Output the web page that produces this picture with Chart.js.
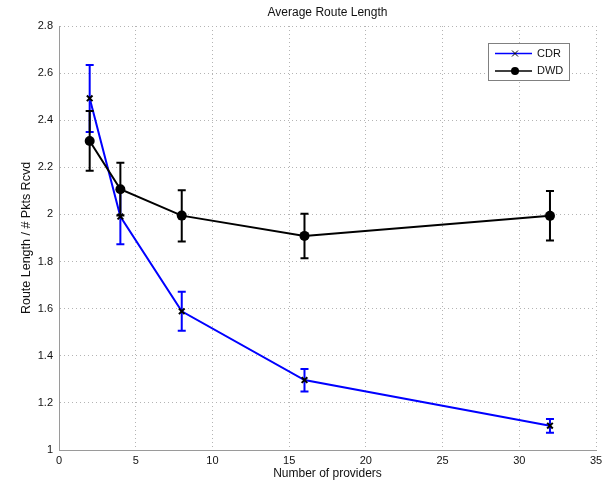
<!DOCTYPE html>
<html lang="en">
<head>
<meta charset="UTF-8">
<title>Average Route Length</title>
<script src="https://cdn.jsdelivr.net/npm/chart.js"></script>
<style>
  html, body { margin: 0; padding: 0; background: #fff; }
  #wrap { width: 611px; height: 484px; }
</style>
</head>
<body>
<div id="wrap"><canvas id="routeChart" width="611" height="484"></canvas></div>
<script>
// number of providers on the x axis
const providers = [2, 4, 8, 16, 32];

// CDR: mean route length and error bar ends
const cdrMean = [2.493, 1.991, 1.589, 1.297, 1.103];
const cdrLow  = [2.350, 1.873, 1.506, 1.248, 1.073];
const cdrHigh = [2.634, 2.107, 1.672, 1.344, 1.132];

// DWD: mean route length and error bar ends
const dwdMean = [2.312, 2.107, 1.995, 1.909, 1.994];
const dwdLow  = [2.186, 1.995, 1.885, 1.814, 1.889];
const dwdHigh = [2.439, 2.219, 2.103, 2.003, 2.100];

// axis ranges
const xRange = [0, 35, 5];
const yRange = [1, 2.8, 0.2];

const FONT = "'Liberation Sans', Arial, sans-serif";

const toPoints = (xs, ys) => xs.map((x, i) => ({ x: x, y: ys[i] }));

// vertical error bars with caps, drawn under each line
const errorBars = {
  id: 'errorBars',
  beforeDatasetDraw(chart, args) {
    const ds = chart.data.datasets[args.index];
    if (!ds.errLow) return;
    const xs = chart.scales.x, ys = chart.scales.y, ctx = chart.ctx;
    ctx.save();
    ctx.strokeStyle = ds.borderColor;
    ctx.lineWidth = 2;
    ds.data.forEach((p, i) => {
      const px = xs.getPixelForValue(p.x);
      const lo = ys.getPixelForValue(ds.errLow[i]);
      const hi = ys.getPixelForValue(ds.errHigh[i]);
      ctx.beginPath();
      ctx.moveTo(px, lo); ctx.lineTo(px, hi);
      ctx.moveTo(px - 4, lo); ctx.lineTo(px + 4, lo);
      ctx.moveTo(px - 4, hi); ctx.lineTo(px + 4, hi);
      ctx.stroke();
    });
    ctx.restore();
  }
};

// title centred over the plot area
const plotTitle = {
  id: 'plotTitle',
  afterDraw(chart) {
    const { ctx, chartArea } = chart;
    ctx.save();
    ctx.fillStyle = '#111';
    ctx.font = '12px ' + FONT;
    ctx.textAlign = 'center';
    ctx.textBaseline = 'middle';
    ctx.fillText('Average Route Length', (chartArea.left + chartArea.right) / 2, 13);
    ctx.restore();
  }
};

// boxed legend in the upper right of the plot
const boxLegend = {
  id: 'boxLegend',
  afterDraw(chart) {
    const { ctx, chartArea } = chart;
    const w = 81, h = 37;
    const left = chartArea.right - 27 - w, top = chartArea.top + 17;
    ctx.save();
    ctx.fillStyle = '#fff';
    ctx.fillRect(left, top, w, h);
    ctx.strokeStyle = '#808080';
    ctx.lineWidth = 1;
    ctx.strokeRect(left + 0.5, top + 0.5, w, h);
    ctx.font = '11px ' + FONT;
    ctx.textBaseline = 'middle';
    chart.data.datasets.forEach((ds, i) => {
      const y = top + 10.5 + i * 17.5;
      ctx.strokeStyle = ds.borderColor;
      ctx.lineWidth = 1.5;
      ctx.beginPath();
      ctx.moveTo(left + 7, y); ctx.lineTo(left + 44, y);
      ctx.stroke();
      const mx = left + 27;
      if (ds.pointStyle === 'crossRot') {
        ctx.strokeStyle = '#000';
        ctx.lineWidth = 1;
        ctx.beginPath();
        ctx.moveTo(mx - 3, y - 3); ctx.lineTo(mx + 3, y + 3);
        ctx.moveTo(mx - 3, y + 3); ctx.lineTo(mx + 3, y - 3);
        ctx.stroke();
      } else {
        ctx.fillStyle = '#000';
        ctx.beginPath();
        ctx.arc(mx, y, 4, 0, Math.PI * 2);
        ctx.fill();
      }
      ctx.fillStyle = '#111';
      ctx.fillText(ds.label, left + 49, y);
    });
    ctx.restore();
  }
};

const gridStyle = { color: '#b4b4b4', lineWidth: 1, drawTicks: false };
const borderStyle = { display: true, color: '#9a9a9a', width: 1, dash: [1, 3] };

new Chart(document.getElementById('routeChart'), {
  type: 'line',
  data: {
    datasets: [
      {
        label: 'CDR',
        data: toPoints(providers, cdrMean),
        errLow: cdrLow,
        errHigh: cdrHigh,
        borderColor: '#0000ff',
        borderWidth: 2,
        pointStyle: 'crossRot',
        pointRadius: 4,
        pointBorderColor: '#000',
        pointBorderWidth: 2,
        tension: 0,
        order: 1
      },
      {
        label: 'DWD',
        data: toPoints(providers, dwdMean),
        errLow: dwdLow,
        errHigh: dwdHigh,
        borderColor: '#000',
        borderWidth: 2,
        pointStyle: 'circle',
        pointRadius: 5,
        pointBackgroundColor: '#000',
        pointBorderColor: '#000',
        pointBorderWidth: 0,
        tension: 0,
        order: 0
      }
    ]
  },
  options: {
    responsive: false,
    animation: false,
    devicePixelRatio: 1,
    layout: { padding: { left: 0, right: 15, top: 26, bottom: 0 } },
    plugins: {
      legend: { display: false },
      title: { display: false },
      tooltip: { enabled: false }
    },
    scales: {
      x: {
        type: 'linear',
        min: xRange[0],
        max: xRange[1],
        afterFit(scale) { scale.height = 34; },
        ticks: {
          stepSize: xRange[2],
          padding: 4,
          color: '#111',
          font: { family: FONT, size: 11 }
        },
        grid: gridStyle,
        border: borderStyle,
        title: {
          display: true,
          text: 'Number of providers',
          color: '#111',
          font: { family: FONT, size: 12 },
          padding: { top: 0, bottom: 3 }
        }
      },
      y: {
        min: yRange[0],
        max: yRange[1],
        afterFit(scale) { scale.width = 59; },
        ticks: {
          stepSize: yRange[2],
          padding: 6,
          color: '#111',
          font: { family: FONT, size: 11 },
          callback: v => String(Math.round(v * 10) / 10)
        },
        grid: gridStyle,
        border: borderStyle,
        title: {
          display: true,
          text: 'Route Length / # Pkts Rcvd',
          color: '#111',
          font: { family: FONT, size: 12.5 },
          padding: { top: 19, bottom: 0 }
        }
      }
    }
  },
  plugins: [errorBars, plotTitle, boxLegend]
});
</script>
</body>
</html>
